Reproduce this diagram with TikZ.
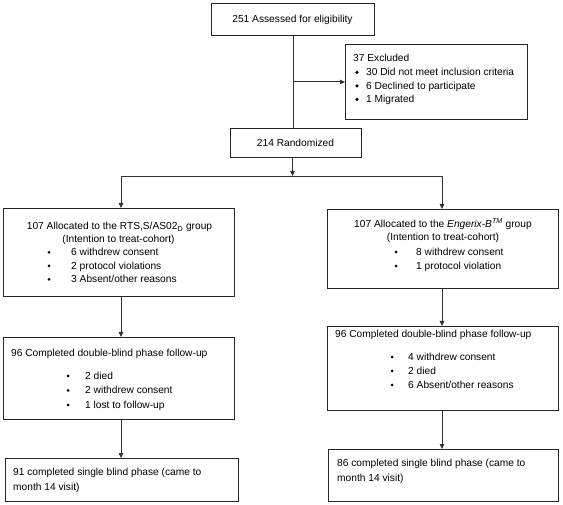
\documentclass[tikz,border=0pt]{standalone}
\usepackage{fontspec}
\setmainfont{Liberation Sans}
\usetikzlibrary{arrows.meta}
\begin{document}
\begin{tikzpicture}[x=1pt,y=-1pt,
  box/.style={draw=black!85,line width=0.9pt,inner sep=0pt,anchor=north west},
  conn/.style={draw=black!80,line width=0.9pt},
  arr/.style={conn,-{Triangle[length=5pt,width=4.5pt]}},
  txt/.style={inner sep=0pt,font=\fontsize{10.2}{13.7}\selectfont},
  lt/.style={txt,anchor=base west},
  ct/.style={txt,anchor=base},
  dot/.style={fill=black},
]
\useasboundingbox[fill=white] (0,0) rectangle (563,505);
% boxes
\node[box,minimum width=163pt,minimum height=32pt] (A) at (211,3) {};
\node[box,minimum width=182pt,minimum height=75pt] (X) at (345,44) {};
\node[box,minimum width=131pt,minimum height=29pt] (R) at (230,128) {};
\node[box,minimum width=231pt,minimum height=88pt] (L1) at (3,208) {};
\node[box,minimum width=231pt,minimum height=79pt] (R1) at (327,209) {};
\node[box,minimum width=231pt,minimum height=82pt] (L2) at (3,337) {};
\node[box,minimum width=231pt,minimum height=84pt] (R2) at (327,326) {};
\node[box,minimum width=233pt,minimum height=43pt] (L3) at (5,458) {};
\node[box,minimum width=230pt,minimum height=52pt] (R3) at (328,449) {};
% connectors
\draw[conn] (A.south) -- (A.south |- R.north);
\draw[arr] (A.south |- X.west) -- (X.west);
\coordinate (split) at (292.5,176);
\coordinate (cl) at (121,176);
\coordinate (cr) at (442,176);
\draw[arr] (split |- R.south) -- (split);
\draw[conn] (cl) -- (cr);
\draw[arr] (cl) -- (cl |- L1.north);
\draw[arr] (cr) -- (cr |- R1.north);
\draw[arr] (cl |- L1.south) -- (cl |- L2.north);
\draw[arr] (cr |- R1.south) -- (cr |- R2.north);
\draw[arr] (cl |- L2.south) -- (cl |- L3.north);
\draw[arr] (cr |- R2.south) -- (cr |- R3.north);
% texts
\node[ct] (tA) at (292.5,22.5) {251 Assessed for eligibility};
\node[ct] (tR) at (295.5,146.5) {214 Randomized};
\node[lt] (tX0) at (353,62) {37 Excluded};
\node[lt] (tX1) at (366,76) {30 Did not meet inclusion criteria};
\node[lt] (tX2) at (366,89.5) {6 Declined to participate};
\node[lt] (tX3) at (366,103) {1 Migrated};
\foreach \y in {76,89.5,103}
  \fill (357,\y-5.4) -- (358.8,\y-3.6) -- (357,\y-1.8) -- (355.2,\y-3.6) -- cycle;
% L1
\node[ct] (tL1a) at (119.5,230) {107 Allocated to the RTS,S/AS02\textsubscript{D} group};
\node[ct] (tL1b) at (118.5,243) {(Intention to treat-cohort)};
\node[lt] (tL1c) at (71,256) {6 withdrew consent};
\node[lt] (tL1d) at (71,269.5) {2 protocol violations};
\node[lt] (tL1e) at (71,283) {3 Absent/other reasons};
\foreach \y in {256,269.5,283} \fill[dot] (49,\y-3.5) circle (1.5pt);
% R1
\node[ct] (tR1a) at (443,227.5) {107 Allocated to the \textit{Engerix-B\textsuperscript{TM}} group};
\node[ct] (tR1b) at (443,240.5) {(Intention to treat-cohort)};
\node[lt] (tR1c) at (416,255.5) {8 withdrew consent};
\node[lt] (tR1d) at (416,269.5) {1 protocol violation};
\foreach \y in {255.5,269.5} \fill[dot] (396,\y-3.5) circle (1.5pt);
% L2
\node[lt] (tL2a) at (11,356.5) {96 Completed double-blind phase follow-up};
\node[lt] (tL2b) at (85,379.5) {2 died};
\node[lt] (tL2c) at (85,394) {2 withdrew consent};
\node[lt] (tL2d) at (85,408.5) {1 lost to follow-up};
\foreach \y in {379.5,394,408.5} \fill[dot] (68,\y-3.5) circle (1.5pt);
% R2
\node[lt] (tR2a) at (335,337.5) {96 Completed double-blind phase follow-up};
\node[lt] (tR2b) at (408,360.5) {4 withdrew consent};
\node[lt] (tR2c) at (408,374.5) {2 died};
\node[lt] (tR2d) at (408,388.5) {6 Absent/other reasons};
\foreach \y in {360.5,374.5,388.5} \fill[dot] (392,\y-3.5) circle (1.5pt);
% L3, R3
\node[lt] (tL3a) at (13,475.5) {91 completed single blind phase (came to};
\node[lt] (tL3b) at (13,490) {month 14 visit)};
\node[lt] (tR3a) at (337,466.5) {86 completed single blind phase (came to};
\node[lt] (tR3b) at (337,481) {month 14 visit)};
\end{tikzpicture}
\end{document}
